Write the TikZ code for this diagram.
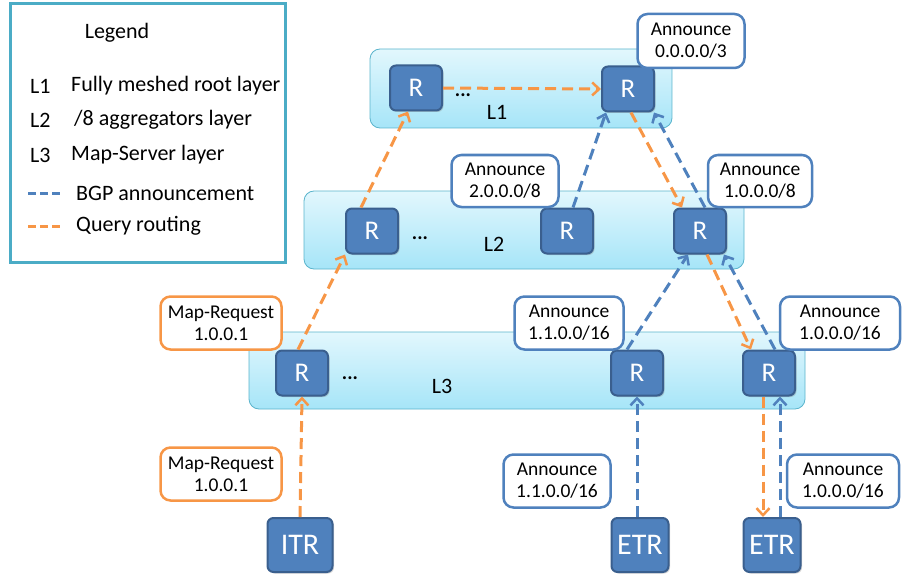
\documentclass[tikz,border=0pt]{standalone}
\usepackage{fontspec}
\setmainfont{Carlito}
\usetikzlibrary{arrows.meta,calc,shadows}
\definecolor{rblue}{HTML}{4F81BD}
\definecolor{rdark}{HTML}{3A5F8E}
\definecolor{qorange}{HTML}{F79646}
\definecolor{teal}{HTML}{4BACC6}
\definecolor{laytop}{HTML}{E2F7FD}
\definecolor{laybot}{HTML}{A6E5F8}
\definecolor{layedge}{HTML}{5AB4CC}
\tikzset{
  rnode/.style={rectangle, rounded corners=6pt, fill=rblue, draw=rdark, line width=2pt,
    minimum width=52pt, minimum height=45pt, inner sep=0pt, text=white,
    font=\fontsize{27}{29}\selectfont, drop shadow={opacity=0.35, shadow xshift=1.5pt, shadow yshift=-1.5pt}},
  tnode/.style={rnode, minimum width=65pt, minimum height=54pt, font=\fontsize{30}{32}\selectfont},
  ann/.style={rectangle, rounded corners=10pt, draw=rblue, line width=2.5pt, fill=white,
    align=center, inner sep=0pt, font=\fontsize{19.5}{22}\selectfont},
  mreq/.style={ann, draw=qorange},
  layer/.style={rectangle, rounded corners=10pt, draw=layedge, line width=0.8pt,
    top color=laytop, bottom color=laybot, inner sep=0pt},
  lab/.style={font=\fontsize{22}{24}\selectfont, inner sep=0pt},
  dots/.style={font=\fontsize{20}{22}\selectfont\bfseries, inner sep=0pt},
  qline/.style={draw=qorange, line width=3pt, dash pattern=on 11pt off 6pt},
  bline/.style={draw=rblue, line width=3pt, dash pattern=on 11pt off 6pt},
  qarr/.style={qline, -{Straight Barb[length=7pt,width=13pt,line width=2.5pt]}},
  barr/.style={bline, -{Straight Barb[length=7pt,width=13pt,line width=2.5pt]}},
}
\begin{document}
\begin{tikzpicture}[x=1pt,y=-1pt]
\useasboundingbox (0,0) rectangle (902,575);
% legend
\node[draw=teal, line width=3pt, minimum width=275pt, minimum height=258pt, inner sep=0pt] (legend) at (147.5,133) {};
\node[lab] (lgt) at (117,33) {Legend};
\node[lab, anchor=west] (lg1a) at (30,86) {L1};
\node[lab, anchor=west] (lg1b) at (71,86) {Fully meshed root layer};
\node[lab, anchor=west] (lg2a) at (30,120) {L2};
\node[lab, anchor=west] (lg2b) at (74,120) {/8 aggregators layer};
\node[lab, anchor=west] (lg3a) at (30,155) {L3};
\node[lab, anchor=west] (lg3b) at (71,155) {Map-Server layer};
\coordinate (lbA) at (28,193); \coordinate (lbB) at (63,193);
\draw[bline, dash pattern=on 8pt off 4pt] (lbA) -- (lbB);
\node[lab, anchor=west] (lg4) at (76,193) {BGP announcement};
\coordinate (lqA) at (28,226); \coordinate (lqB) at (63,226);
\draw[qline, dash pattern=on 8pt off 4pt] (lqA) -- (lqB);
\node[lab, anchor=west] (lg5) at (76,226) {Query routing};

% layers
\node[layer, minimum width=302pt, minimum height=79pt] (lay1) at (521,88.5) {};
\node[layer, minimum width=440pt, minimum height=78pt] (lay2) at (524,230) {};
\node[layer, minimum width=556pt, minimum height=77pt] (lay3) at (527,370.5) {};
\node[lab] (t1) at (497,112) {L1};
\node[lab] (t2) at (494,244) {L2};
\node[lab] (t3) at (442,386) {L3};
\node[dots] (d1) at (463,95) {...};
\node[dots] (d2) at (420,238) {...};
\node[dots] (d3) at (350,378) {...};

% routers
\node[rnode] (R1a) at (416,88) {R};
\node[rnode] (R1b) at (628,89) {R};
\node[rnode] (R2a) at (372,231) {R};
\node[rnode] (R2b) at (567,231) {R};
\node[rnode] (R2c) at (700,231) {R};
\node[rnode] (R3a) at (302,373) {R};
\node[rnode] (R3b) at (637,373) {R};
\node[rnode] (R3c) at (769,373) {R};
\node[tnode] (ITR) at (300,545) {ITR};
\node[tnode, minimum width=57pt] (ETR1) at (640,545) {ETR};
\node[tnode, minimum width=57pt] (ETR2) at (772,545) {ETR};

% callouts
\node[ann, minimum width=107pt, minimum height=54pt] (a0) at (691,41) {Announce\\0.0.0.0/3};
\node[ann, minimum width=107pt, minimum height=52pt] (a2) at (505,181) {Announce\\2.0.0.0/8};
\node[ann, minimum width=104pt, minimum height=52pt] (a1) at (760,181) {Announce\\1.0.0.0/8};
\node[mreq, minimum width=121pt, minimum height=53pt] (m1) at (221,323) {Map-Request\\1.0.0.1};
\node[ann, minimum width=109pt, minimum height=53pt] (a11) at (569,323) {Announce\\1.1.0.0/16};
\node[ann, minimum width=120pt, minimum height=53pt] (a10) at (840,323) {Announce\\1.0.0.0/16};
\node[mreq, minimum width=121pt, minimum height=53pt] (m2) at (221,474) {Map-Request\\1.0.0.1};
\node[ann, minimum width=107pt, minimum height=53pt] (b11) at (557,481) {Announce\\1.1.0.0/16};
\node[ann, minimum width=112pt, minimum height=53pt] (b10) at (843,481) {Announce\\1.0.0.0/16};

% query routing
\draw[qarr] (ITR.north) -- (R3a.south);
\draw[qarr] ([xshift=-4pt]R3a.north) -- (R2a.south west);
\draw[qarr] ([xshift=-11pt]R2a.north) -- ([xshift=-8pt]R1a.south);
\draw[qarr] (R1a.east) -- (R1b.west);
\draw[qarr] ([xshift=3pt]R1b.south) -- ([xshift=-18pt]R2c.north);
\draw[qarr] ([xshift=7pt]R2c.south) -- ([xshift=-18pt]R3c.north);
\draw[qarr] ([xshift=-6pt]R3c.south) -- ([xshift=-9pt]ETR2.north);

% BGP announcements
\draw[barr] ([xshift=-3pt]ETR1.north) -- (R3b.south);
\draw[barr] ([xshift=8pt]ETR2.north) -- ([xshift=11pt]R3c.south);
\draw[barr] ([xshift=-10pt]R3b.north) -- ([xshift=15pt]R2c.south west);
\draw[barr] ([xshift=6pt]R3c.north) -- ([xshift=-3pt]R2c.south east);
\draw[barr] ([xshift=6pt]R2b.north) -- ([xshift=5pt]R1b.south west);
\draw[barr] ([xshift=5pt]R2c.north) -- ([xshift=-1pt]R1b.south east);
\end{tikzpicture}
\end{document}
